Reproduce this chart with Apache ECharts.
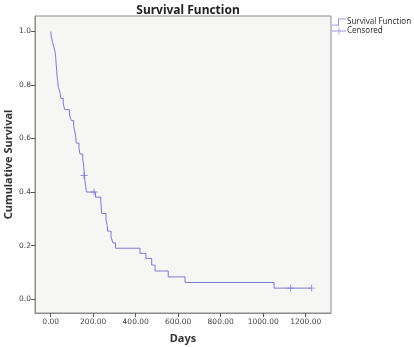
<!DOCTYPE html>
<html><head><meta charset="utf-8">
<script src="https://cdn.jsdelivr.net/npm/echarts@6/dist/echarts.min.js"></script>
<style>html,body{margin:0;padding:0;background:#fff}#c{width:414px;height:347px}</style>
</head><body><div id="c"></div>
<script>
// Kaplan-Meier step points: time (days) at which survival drops, and new survival
const eventDays = [0, 3, 9, 16, 22, 24, 26, 28, 30, 33, 36, 44, 48, 59, 66, 88, 97, 108, 114, 118, 120, 133, 138, 151, 155, 157, 161, 165, 168, 211, 236, 238, 240, 260, 266, 268, 284, 293, 305, 420, 448, 475, 491, 553, 632, 1051, 1228];
const survival = [1.0, 0.979, 0.958, 0.938, 0.917, 0.896, 0.875, 0.854, 0.833, 0.813, 0.792, 0.771, 0.750, 0.729, 0.708, 0.688, 0.667, 0.646, 0.625, 0.604, 0.583, 0.563, 0.542, 0.521, 0.500, 0.479, 0.440, 0.420, 0.400, 0.381, 0.362, 0.341, 0.320, 0.296, 0.275, 0.254, 0.232, 0.210, 0.190, 0.171, 0.152, 0.127, 0.105, 0.083, 0.062, 0.041, 0.041];
const censoredDays = [157, 204, 1129, 1228];
const censoredSurv = [0.462, 0.400, 0.041, 0.041];
const xTicks = [0, 200, 400, 600, 800, 1000, 1200];
const yTicks = [0, 0.2, 0.4, 0.6, 0.8, 1.0];

const lineColor = '#7b7bd6';
const chart = echarts.init(document.getElementById('c'), null, {renderer: 'canvas'});
const stepIcon = 'path://M0,8.8H8.8V0H20V1.2H10V10H0Z';
const plusIcon = 'path://M9.4,0H10.6V4.4H20V5.6H10.6V10H9.4V5.6H0V4.4H9.4Z';
const plusSym = 'path://M4.3,0H5.7V4.3H10V5.7H5.7V10H4.3V5.7H0V4.3H4.3Z';
chart.setOption({
  animation: false,
  backgroundColor: '#ffffff',
  title: {
    text: 'Survival Function', left: 183, top: 0, textAlign: 'center',
    textStyle: {fontFamily: 'Noto Sans', fontWeight: 'bold', fontSize: 12, color: '#222'}
  },
  legend: {
    orient: 'vertical', left: 332, top: 18, itemGap: 1, itemWidth: 14, itemHeight: 7, padding: 0,
    textStyle: {fontFamily: 'Noto Sans', fontSize: 8, color: '#333', padding: [0, 0, 0, -4]},
    data: [
      {name: 'Survival Function', icon: stepIcon, itemStyle: {color: lineColor, borderWidth: 0}},
      {name: 'Censored', icon: plusIcon, itemStyle: {color: lineColor, borderWidth: 0}}
    ]
  },
  grid: {left: 35, top: 16, right: 83, bottom: 34, outerBoundsMode: 'none', containLabel: false, show: true, backgroundColor: '#f6f6f4', borderColor: '#8c8c8c', borderWidth: 1},
  xAxis: {
    type: 'value', min: -74, max: 1319,
    name: 'Days', nameLocation: 'middle', nameGap: 20, nameMoveOverlap: false,
    nameTextStyle: {fontFamily: 'Noto Sans', fontWeight: 'bold', fontSize: 11, color: '#333'},
    splitLine: {show: false},
    axisLine: {show: true, onZero: false, lineStyle: {color: '#8c8c8c'}},
    axisTick: {show: true, customValues: xTicks, length: 4, lineStyle: {color: '#555'}},
    axisLabel: {customValues: xTicks, fontFamily: 'DejaVu Sans', fontSize: 7.5, color: '#444', margin: 5, formatter: v => v.toFixed(2)}
  },
  yAxis: {
    type: 'value', min: -0.052, max: 1.058,
    name: 'Cumulative Survival', nameLocation: 'middle', nameGap: 21, nameMoveOverlap: false,
    nameTextStyle: {fontFamily: 'Noto Sans', fontWeight: 'bold', fontSize: 11, color: '#333'},
    splitLine: {show: false},
    axisLine: {show: true, onZero: false, lineStyle: {color: '#8c8c8c'}},
    axisTick: {show: true, customValues: yTicks, length: 4, lineStyle: {color: '#555'}},
    axisLabel: {customValues: yTicks, fontFamily: 'DejaVu Sans', fontSize: 7.5, color: '#444', margin: 4, formatter: v => v.toFixed(1)}
  },
  series: [
    {
      name: 'Survival Function', type: 'line', step: 'end', showSymbol: false, symbol: 'none',
      data: eventDays.map((d, i) => [d, survival[i]]),
      lineStyle: {color: lineColor, width: 1}, itemStyle: {color: lineColor}
    },
    {
      name: 'Censored', type: 'scatter', symbol: plusSym, symbolSize: 7,
      data: censoredDays.map((d, i) => [d, censoredSurv[i]]),
      itemStyle: {color: lineColor}
    }
  ]
});
</script></body></html>
